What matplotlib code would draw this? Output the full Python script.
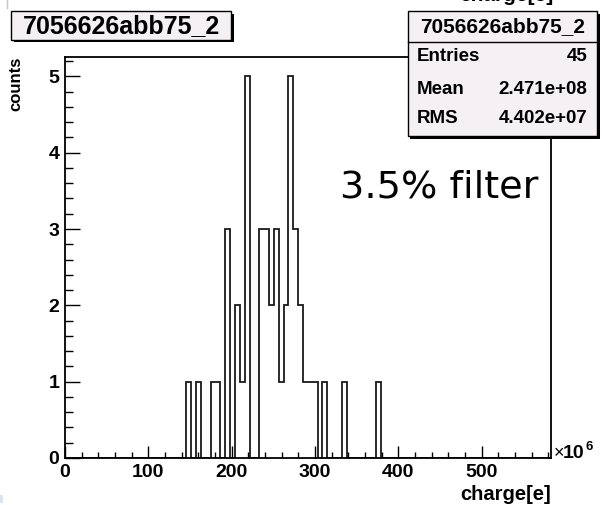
import numpy as np
import matplotlib
matplotlib.use('Agg')
import matplotlib.pyplot as plt
from matplotlib.patches import Rectangle
from matplotlib.ticker import MultipleLocator, FixedLocator

# ---------------- data ----------------
hist_title = "7056626abb75_2"
x_label = "charge[e]"
y_label = "counts"
annotation = "3.5% filter"
n_bins = 100
x_max = 583.0            # axis range in units of 1e6 e
filled_bins = [25, 27, 30, 31, 33, 35, 36, 37, 40, 41, 42, 43, 44, 45,
               46, 47, 48, 49, 50, 51, 53, 57, 64]
filled_counts = [1, 1, 1, 1, 3, 2, 1, 5, 3, 3, 2, 3, 1, 2,
                 5, 3, 2, 1, 1, 1, 1, 1, 1]
stats_labels = ["Entries", "Mean", "RMS"]
stats_values = ["45", "2.471e+08", "4.402e+07"]
x_ticks = [0, 100, 200, 300, 400, 500]
y_ticks = [0, 1, 2, 3, 4, 5]
y_max = 5.25

counts = np.zeros(n_bins)
counts[filled_bins] = filled_counts
edges = np.linspace(0, x_max, n_bins + 1)

# ---------------- figure ----------------
W, H = 602, 505
fig = plt.figure(figsize=(W / 100, H / 100), dpi=100)
fig.patch.set_facecolor('white')
BOLD = dict(family='Liberation Sans', weight='bold')

L, R, T, B = 65, 550.7, 57.3, 458
ax = fig.add_axes([L / W, 1 - B / H, (R - L) / W, (B - T) / H])
ax.stairs(counts, edges, color='#1a1a1a', lw=1.3, baseline=0)
ax.set_xlim(0, x_max)
ax.set_ylim(0, y_max)
for s in ax.spines.values():
    s.set_linewidth(1.3)
    s.set_color('black')

ax.xaxis.set_major_locator(FixedLocator(x_ticks))
ax.xaxis.set_minor_locator(MultipleLocator(20))
ax.yaxis.set_major_locator(FixedLocator(y_ticks))
ax.yaxis.set_minor_locator(MultipleLocator(0.2))
ax.tick_params(axis='both', which='both', direction='in', top=False, right=False,
               width=1.0, color='black')
ax.tick_params(axis='x', which='major', length=8.6, pad=4)
ax.tick_params(axis='x', which='minor', length=4.3)
ax.tick_params(axis='y', which='major', length=10.8, pad=4)
ax.tick_params(axis='y', which='minor', length=5.6)
ax.set_xticklabels([str(v) for v in x_ticks], fontsize=14, **BOLD)
ax.set_yticklabels([str(v) for v in y_ticks], fontsize=14, **BOLD)

# ---------------- overlay in pixel coordinates ----------------
ov = fig.add_axes([0, 0, 1, 1], zorder=5)
ov.set_xlim(0, W)
ov.set_ylim(H, 0)
ov.axis('off')

FILL = '#f4f0f4'

def shadow_box(x0, y0, x1, y1, sh=2.5):
    ov.add_patch(Rectangle((x0 + sh, y0 + sh), x1 - x0, y1 - y0,
                           facecolor='black', edgecolor='none'))
    ov.add_patch(Rectangle((x0, y0), x1 - x0, y1 - y0,
                           facecolor=FILL, edgecolor='black', lw=1.0))

# screenshot edge artefacts
ov.plot([7, 7], [0, 8], color='#c8c8c8', lw=1.0)
ov.add_patch(Rectangle((0, 495), 3, 8, facecolor='#dde3ee', edgecolor='none'))

# clipped histogram title at the very top (only its lowest part shows)
ov.text(553, 1.0, x_label, ha='right', va='baseline', fontsize=15, **BOLD)

# title box
shadow_box(11, 11, 231, 39.5)
ov.text(121, 26, hist_title, ha='center', va='center', fontsize=18, **BOLD)

# stats box
sx0, sy0, sx1, sy1 = 407.7, 11, 597, 136
shadow_box(sx0, sy0, sx1, sy1)
ov.plot([sx0, sx1], [41.7, 41.7], color='black', lw=1.0)
ov.text((sx0 + sx1) / 2, 26.5, hist_title, ha='center', va='center', fontsize=15, **BOLD)
row_y = [56.7, 89.5, 118.3]
for lab, val, yy in zip(stats_labels, stats_values, row_y):
    ov.text(417, yy, lab, ha='left', va='center', fontsize=13.5, **BOLD)
    ov.text(587.5, yy, val, ha='right', va='center', fontsize=13.5, **BOLD)

# annotation
ov.text(340, 197, annotation, ha='left', va='baseline', fontsize=27.5,
        family='DejaVu Sans')

# axis labels
ov.text(R, 494, x_label, ha='right', va='center', fontsize=14.5, **BOLD)
ov.text(16, 57, y_label, ha='center', va='top', rotation=90, fontsize=12, **BOLD)

# x10^6 exponent
ov.text(554, 458, "\u00d7", ha='left', va='baseline', fontsize=13, family='Liberation Sans')
ov.text(563, 458, "10", ha='left', va='baseline', fontsize=14, **BOLD)
ov.text(586, 450, "6", ha='left', va='baseline', fontsize=9.5, **BOLD)

fig.savefig('out.png', dpi=100, facecolor='white')
